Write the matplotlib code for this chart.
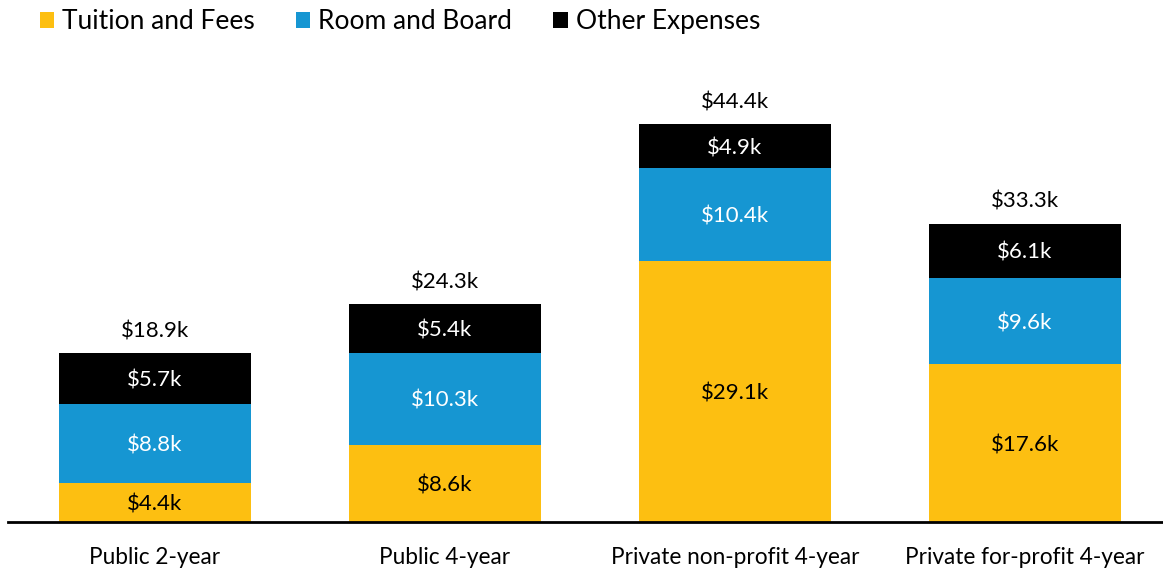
import matplotlib.pyplot as plt
from matplotlib.patches import Patch
import numpy as np

plt.rcParams['font.family'] = ['Lato', 'DejaVu Sans']

categories = ["Public 2-year", "Public 4-year", "Private non-profit 4-year", "Private for-profit 4-year"]
tuition = [4.4, 8.6, 29.1, 17.6]
room_board = [8.8, 10.3, 10.4, 9.6]
other = [5.7, 5.4, 4.9, 6.1]
totals = [18.9, 24.3, 44.4, 33.3]

series_names = ["Tuition and Fees", "Room and Board", "Other Expenses"]
colors = ["#FDBF11", "#1696D2", "#000000"]
text_colors = ["#000000", "#FFFFFF", "#FFFFFF"]

W, H = 1163, 570
fig = plt.figure(figsize=(W / 100, H / 100), dpi=100)
ax = fig.add_axes([8 / W, 48 / H, 1155 / W, 452 / H])

x = np.arange(len(categories))
bottom = np.zeros(len(categories))
for vals, color, tc in zip([tuition, room_board, other], colors, text_colors):
    vals = np.array(vals)
    ax.bar(x, vals, bottom=bottom, width=0.665, color=color, edgecolor="none")
    for xi, b, v in zip(x, bottom, vals):
        ax.text(xi, b + v / 2, f"${v:.1f}k", ha="center", va="center_baseline",
                color=tc, fontsize=16)
    bottom += vals

for xi, t in zip(x, totals):
    ax.text(xi, t + 1.3, f"${t:.1f}k", ha="center", va="bottom", fontsize=16)

ax.set_xlim(-0.507, 3.476)
ax.set_ylim(0, 452 / 8.96)
ax.set_xticks(x)
ax.set_xticklabels(categories, fontsize=16.3)
ax.tick_params(axis="x", length=0, pad=18)
ax.set_yticks([])
for s in ["top", "right", "left"]:
    ax.spines[s].set_visible(False)
ax.spines["bottom"].set_linewidth(2)

handles = [Patch(facecolor=c, edgecolor="none") for c in colors]
fig.legend(handles, series_names, loc="upper left", bbox_to_anchor=(24 / W, 1.012),
           ncol=3, frameon=False, fontsize=19, handlelength=0.55, handleheight=0.55,
           handletextpad=0.3, columnspacing=1.55, borderaxespad=0.2)

fig.savefig("out.png", dpi=100)
